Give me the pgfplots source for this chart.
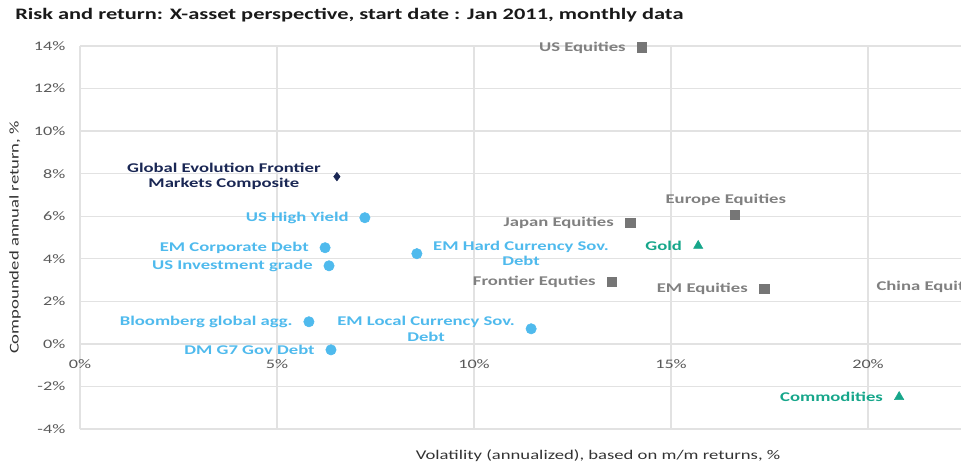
\documentclass[border=0pt]{standalone}
\usepackage{fontspec}
\setmainfont{Carlito}[FakeStretch=1.4]
\usepackage{pgfplots}
\pgfplotsset{compat=1.18}
\definecolor{bondblue}{RGB}{79,186,237}
\definecolor{eqgray}{RGB}{118,118,118}
\definecolor{eqtext}{RGB}{128,128,128}
\definecolor{tealc}{RGB}{22,166,138}
\definecolor{navyc}{RGB}{26,39,84}
\definecolor{tickc}{RGB}{89,89,89}
\definecolor{gridc}{RGB}{226,226,226}
\newcommand{\lab}[5]{%
  \addplot[only marks,#1,nodes near coords={#5},
    every node near coord/.append style={inner sep=0pt,font=\fontsize{10}{11.5}\selectfont\bfseries,align=center,#4}]
    coordinates {(#2,#3)};}
\begin{document}
\begin{tikzpicture}
\begin{axis}[
  scale only axis, width=660.75pt, height=287.25pt,
  xmin=0, xmax=22.36, ymin=-4, ymax=14,
  xtick={0,5,10,15,20}, ytick={-4,-2,...,14},
  grid=major, major grid style={draw=gridc, line width=1pt},
  axis line style={draw=none}, major tick length=0pt,
  /pgf/number format/assume math mode=true,
  xticklabel={\pgfmathprintnumber{\tick}\%},
  yticklabel={\pgfmathprintnumber{\tick}\%},
  tick label style={font=\fontsize{9.75}{11}\selectfont, text=tickc},
  xticklabel style={yshift=55.5pt},
  yticklabel style={xshift=-7.5pt},
  xlabel={Volatility (annualized), based on m/m returns, \%},
  ylabel={Compounded annual return, \%},
  every axis x label/.style={at={(rel axis cs:0.588,0)}, yshift=-20.25pt, anchor=center, font=\fontsize{10}{11}\selectfont, text=black!80},
  every axis y label/.style={at={(rel axis cs:0,0.5)}, xshift=-48.75pt, rotate=90, anchor=center, font=\fontsize{10}{11}\selectfont, text=black!80},
  clip=false,
]
\coordinate (bl) at (rel axis cs:0,0);
\coordinate (tr) at (rel axis cs:1,1);
\coordinate (tl) at (rel axis cs:0,1);
% bonds
\lab{mark=*, mark size=3.9pt, mark options={draw=bondblue, fill=bondblue}}{7.23}{5.93}{text=bondblue, anchor=east, xshift=-12pt}{US High Yield}
\lab{mark=*, mark size=3.9pt, mark options={draw=bondblue, fill=bondblue}}{6.22}{4.52}{text=bondblue, anchor=east, xshift=-12pt}{EM Corporate Debt}
\lab{mark=*, mark size=3.9pt, mark options={draw=bondblue, fill=bondblue}}{6.32}{3.67}{text=bondblue, anchor=east, xshift=-12pt}{US Investment grade}
\lab{mark=*, mark size=3.9pt, mark options={draw=bondblue, fill=bondblue}}{8.55}{4.24}{text=bondblue, anchor=west, xshift=12pt}{EM Hard Currency Sov.\\Debt}
\lab{mark=*, mark size=3.9pt, mark options={draw=bondblue, fill=bondblue}}{5.81}{1.04}{text=bondblue, anchor=east, xshift=-12pt}{Bloomberg global agg.}
\lab{mark=*, mark size=3.9pt, mark options={draw=bondblue, fill=bondblue}}{11.45}{0.71}{text=bondblue, anchor=east, xshift=-12pt}{EM Local Currency Sov.\\Debt}
\lab{mark=*, mark size=3.9pt, mark options={draw=bondblue, fill=bondblue}}{6.37}{-0.28}{text=bondblue, anchor=east, xshift=-12pt}{DM G7 Gov Debt}
% frontier composite
\lab{mark=diamond*, mark size=3.2pt, mark options={draw=navyc, fill=navyc}}{6.52}{7.86}{text=navyc, anchor=east, xshift=-12pt}{Global Evolution Frontier\\Markets Composite}
% equities
\lab{mark=square*, mark size=3.6pt, mark options={draw=eqgray, fill=eqgray}}{14.26}{13.93}{text=eqtext, anchor=east, xshift=-12pt}{US Equities}
\lab{mark=square*, mark size=3.6pt, mark options={draw=eqgray, fill=eqgray}}{13.96}{5.69}{text=eqtext, anchor=east, xshift=-12pt}{Japan Equities}
\lab{mark=square*, mark size=3.6pt, mark options={draw=eqgray, fill=eqgray}}{16.62}{6.07}{text=eqtext, anchor=center, xshift=-6.75pt, yshift=11pt}{Europe Equities}
\lab{mark=square*, mark size=3.6pt, mark options={draw=eqgray, fill=eqgray}}{13.50}{2.92}{text=eqtext, anchor=east, xshift=-12pt}{Frontier Equties}
\lab{mark=square*, mark size=3.6pt, mark options={draw=eqgray, fill=eqgray}}{17.36}{2.59}{text=eqtext, anchor=east, xshift=-12pt}{EM Equities}
\lab{mark=square*, mark size=3.6pt, mark options={draw=eqgray, fill=eqgray}}{23.40}{2.68}{text=eqtext, anchor=east, xshift=-12pt}{China Equities}
% commodities
\lab{mark=triangle*, mark size=4pt, mark options={draw=tealc, fill=tealc}}{15.69}{4.61}{text=tealc, anchor=east, xshift=-12pt}{Gold}
\lab{mark=triangle*, mark size=4pt, mark options={draw=tealc, fill=tealc}}{20.79}{-2.49}{text=tealc, anchor=east, xshift=-12pt}{Commodities}
\end{axis}
\node[anchor=west, inner sep=0pt, font=\fontsize{12}{14}\selectfont\bfseries, text=black!90] at ([xshift=-48.75pt, yshift=23.25pt]tl) {Risk and return: X-asset perspective, start date : Jan 2011, monthly data};
\pgfresetboundingbox
\useasboundingbox ([xshift=-60pt,yshift=-27pt]bl) rectangle ([yshift=34.5pt]tr);
\end{tikzpicture}
\end{document}
